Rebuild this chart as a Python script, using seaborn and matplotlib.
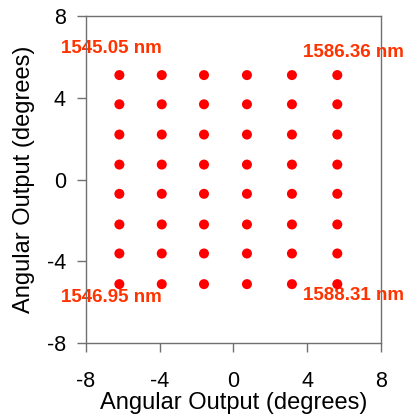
import numpy as np
import pandas as pd
import matplotlib
matplotlib.use("Agg")
import matplotlib.pyplot as plt
import seaborn as sns

# spot positions (degrees)
x_angles = [-6.19, -3.89, -1.60, 0.73, 3.17, 5.63]
y_angles = [5.11, 3.68, 2.20, 0.73, -0.70, -2.20, -3.62, -5.12]

# corner wavelength labels
corner_labels = ["1545.05 nm", "1586.36 nm", "1546.95 nm", "1588.31 nm"]
corner_x = [-6.6, 6.5, -6.6, 6.5]
corner_y = [6.4, 6.2, -5.75, -5.7]

ticks = [-8, -4, 0, 4, 8]

xx, yy = np.meshgrid(x_angles, y_angles)
df = pd.DataFrame({"x": xx.ravel(), "y": yy.ravel()})

sns.set_style("white")
plt.rcParams["font.family"] = ["Liberation Sans", "DejaVu Sans"]
plt.rcParams["axes.unicode_minus"] = False

fig = plt.figure(figsize=(4.06, 4.16), dpi=100)
ax = fig.add_axes([0.2118, 0.1755, 0.7266, 0.786])

sns.scatterplot(data=df, x="x", y="y", ax=ax, color="#ff0000",
                s=52, edgecolor="none", zorder=3)

for label, lx, ly in zip(corner_labels, corner_x, corner_y):
    ax.text(lx, ly, label, color="#ff3300", fontsize=13.5, fontweight="bold",
            ha="center", va="center", clip_on=False, zorder=1)

ax.set_xlim(-8, 8)
ax.set_ylim(-8, 8)
ax.set_xticks(ticks)
ax.set_yticks(ticks)
ax.tick_params(axis="both", direction="out", length=6.5, width=1,
               color="#707070", labelcolor="black", labelsize=15.5,
               bottom=True, left=True)
ax.tick_params(axis="x", pad=14)
ax.tick_params(axis="y", pad=8)
for side in ax.spines.values():
    side.set_color("#707070")
    side.set_linewidth(1)
    side.set_zorder(2.5)

ax.set_xlabel("Angular Output (degrees)", fontsize=17, labelpad=0, color="black")
ax.set_ylabel("Angular Output (degrees)", fontsize=17, labelpad=8, color="black")

fig.savefig("out.png", dpi=100)
